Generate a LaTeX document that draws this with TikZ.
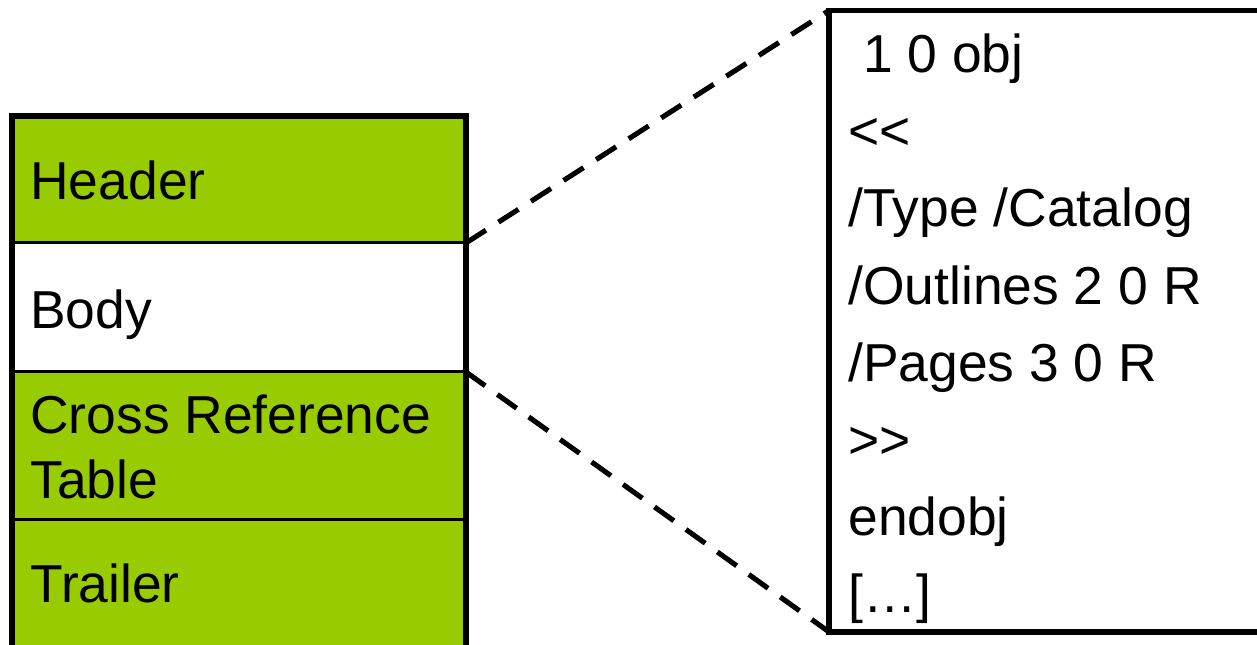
\documentclass[tikz,border=0pt]{standalone}
\usepackage{fontspec}
\setmainfont{Liberation Sans}[Ligatures=TeXOff]
\usetikzlibrary{positioning}
\definecolor{partgreen}{HTML}{99CC00}

\tikzset{
	part/.style={draw, line width=1.7pt, fill=partgreen, inner sep=0pt, outer sep=0pt,
		minimum width=9.08cm, anchor=north west},
	frame/.style={line width=3.4pt, line join=miter},
	zoomline/.style={line width=2.9pt, dash pattern=on 13.5pt off 8.5pt},
	lbl/.style={anchor=base west, inner sep=0pt, font=\fontsize{30.4}{36}\selectfont},
}

\begin{document}
\begin{tikzpicture}[x=0.02cm, y=-0.02cm]
	\useasboundingbox (0,0) rectangle (1257,645);
	\clip (0,0) rectangle (1257,645);

	% file layout
	\node (header) [part, minimum height=2.54cm] at (12,116) {};
	\node (body) [part, fill=white, minimum height=2.58cm, below=0pt of header] {};
	\node (xref) [part, minimum height=2.96cm, below=0pt of body] {};
	\node (trailer) [part, minimum height=3.6cm, below=0pt of xref] {};
	\draw[frame] (trailer.south west) -- (header.north west) -- (header.north east) -- (trailer.south east);

	\node (headerlabel) [lbl] at (30,200) {Header};
	\node (bodylabel) [lbl] at (30,328) {Body};
	\node (xreflabel) [lbl] at (30,433) {Cross Reference};
	\node (tablelabel) [lbl] at (30,498) {Table};
	\node (trailerlabel) [lbl] at (30,602) {Trailer};

	% one object of the body
	\node (obj) [draw, frame, inner sep=0pt, outer sep=0pt, anchor=north west,
		minimum width=10cm, minimum height=12.43cm] at (829,10.5) {};
	\foreach \objline [count=\i from 0] in {\ 1 0 obj, <<, /Type /Catalog, /Outlines 2 0 R,
		/Pages 3 0 R, >>, endobj, {[…]}}
		\node (objline\i) [lbl] at (848,{73+77*\i}) {\objline};

	\draw[zoomline] (body.north east) -- (obj.north west);
	\draw[zoomline] (body.south east) -- (obj.south west);
\end{tikzpicture}
\end{document}
